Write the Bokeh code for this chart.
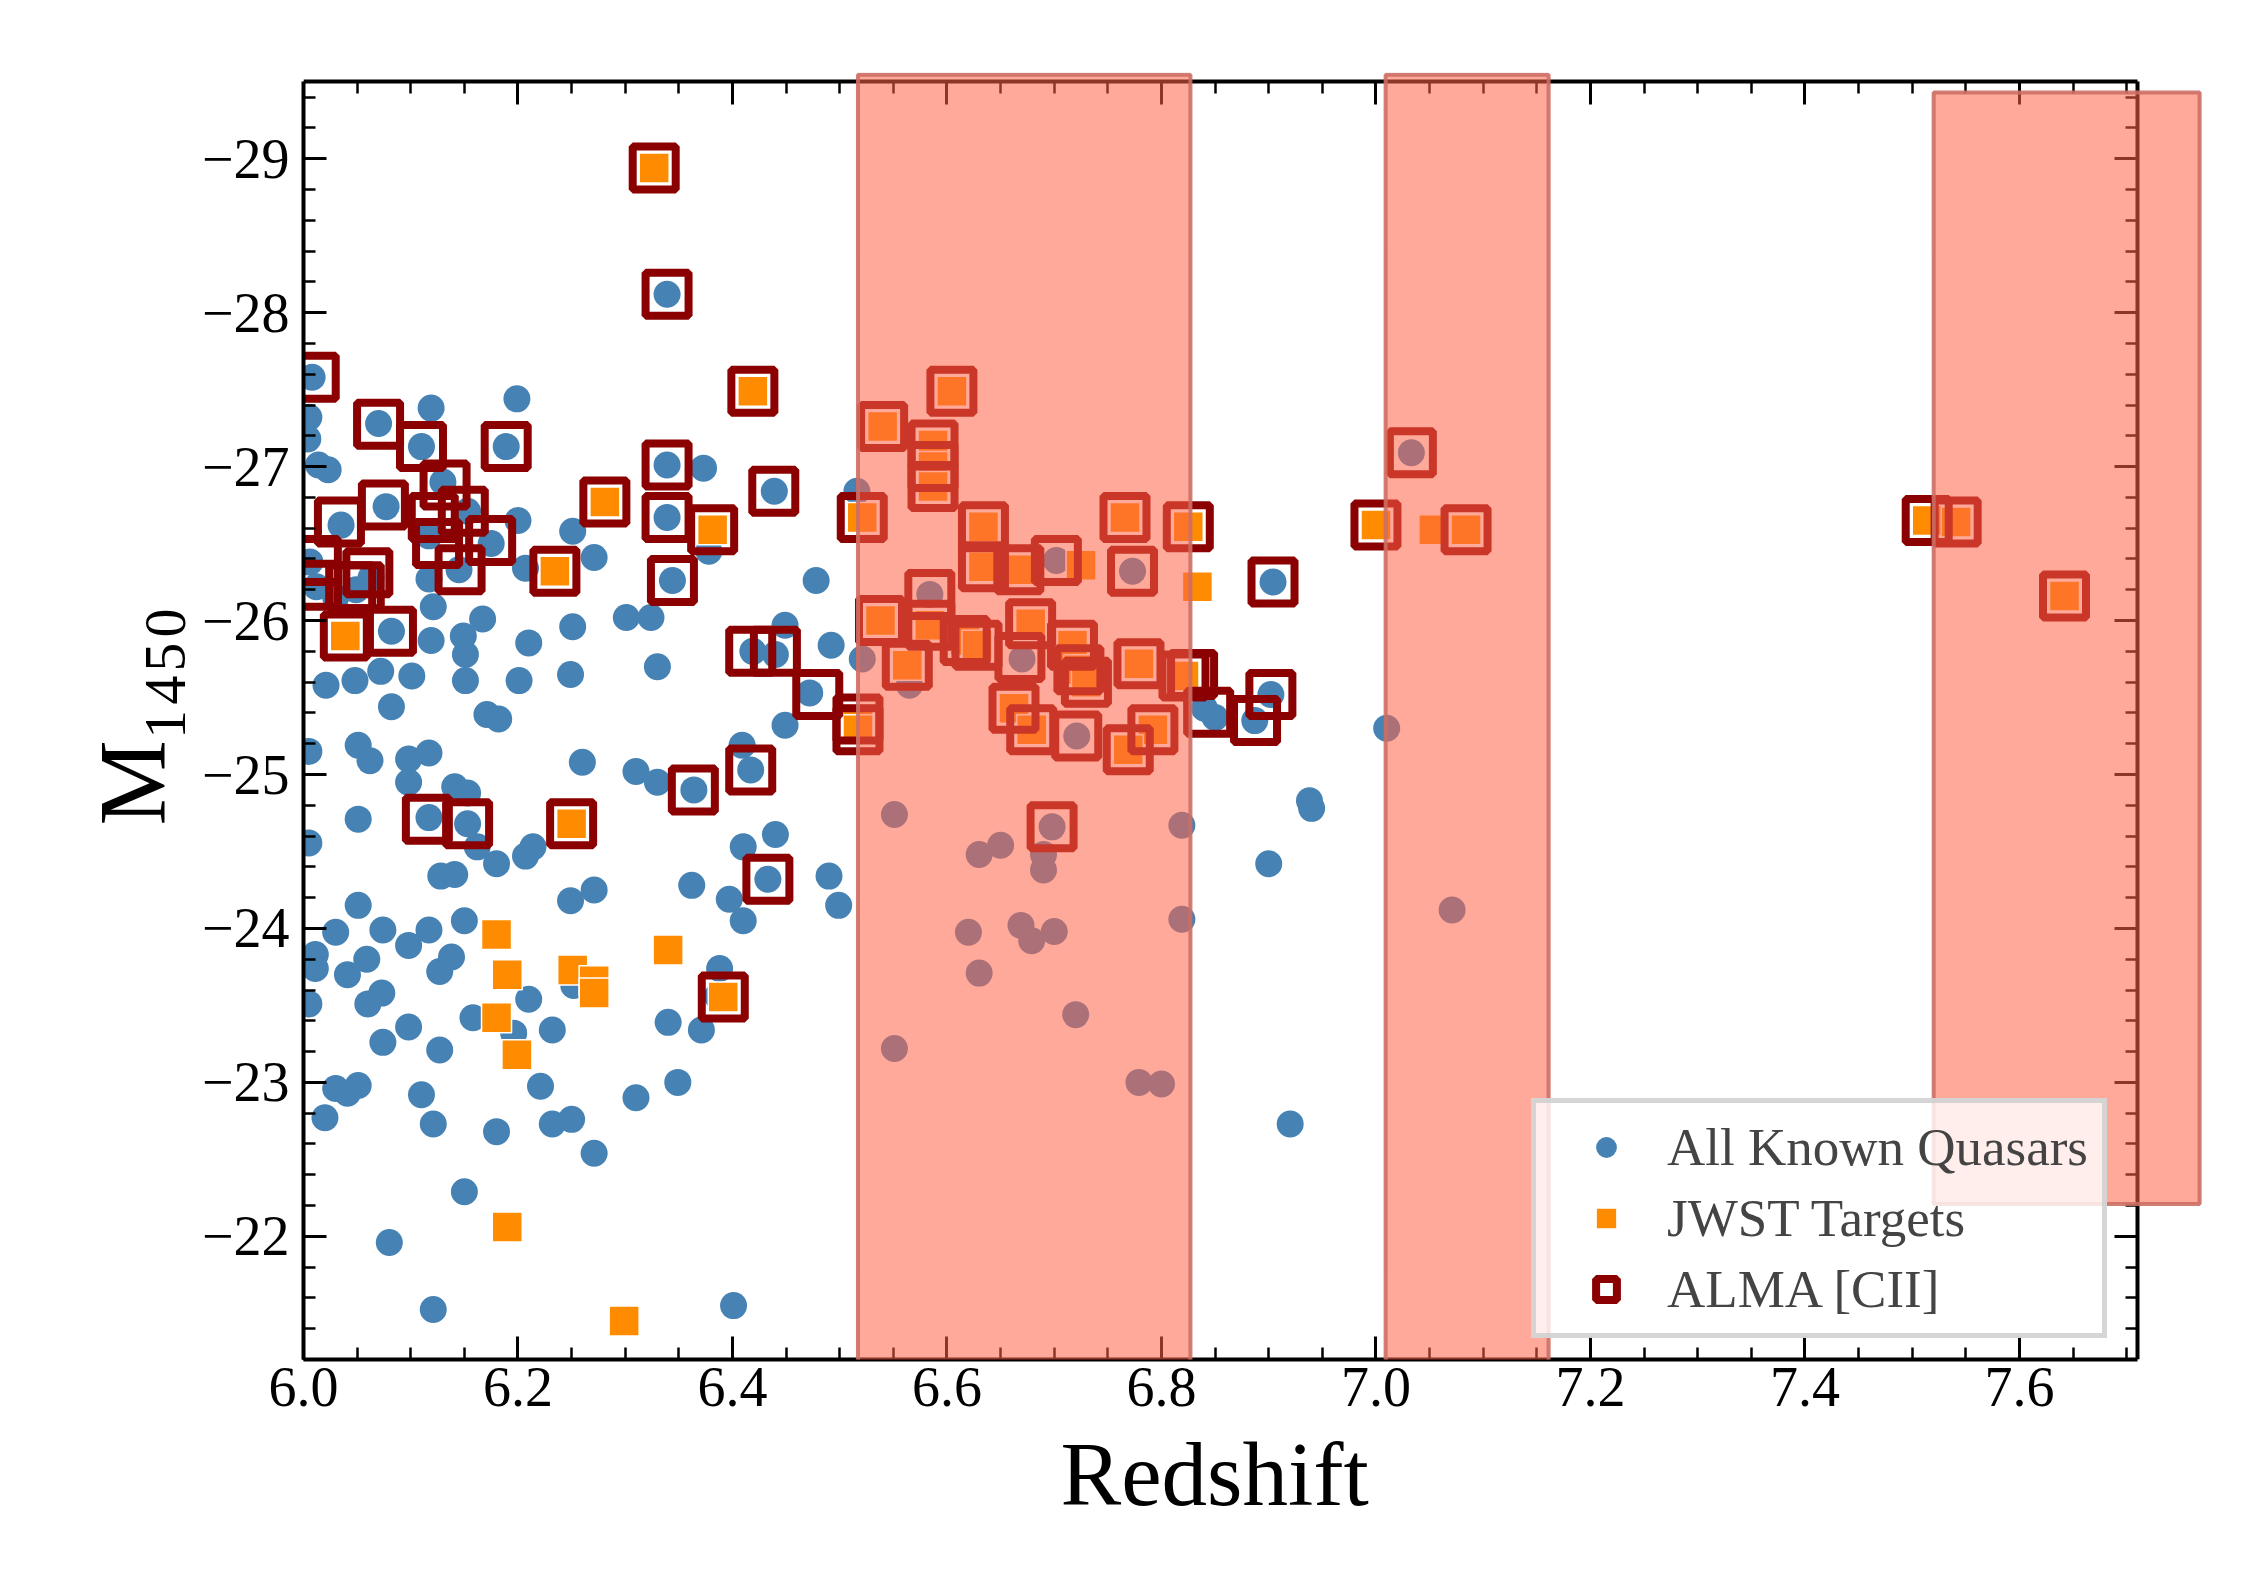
from bokeh.plotting import figure
from bokeh.models import (ColumnDataSource, Range1d, LinearAxis, SingleIntervalTicker,
                          CustomJSTickFormatter, Legend, LegendItem, BoxAnnotation, Title)
from bokeh.embed import file_html
from bokeh.resources import INLINE

# ---------------- data ----------------
quasar_z = [
    6.339, 6.008, 6.005, 6.004, 6.070, 6.119, 6.199, 6.110, 6.189, 6.014, 6.023, 6.339, 6.373,
    6.439, 6.130, 6.077, 6.035, 6.200, 6.339, 6.378, 6.251, 6.153, 6.117, 6.145, 6.175, 6.117,
    6.207, 6.271, 6.344, 6.478, 6.006, 6.012, 6.030, 6.063, 6.049, 6.082, 6.121, 6.167, 6.119,
    6.149, 6.151, 6.210, 6.251, 6.249, 6.301, 6.324, 6.330, 6.021, 6.048, 6.072, 6.101, 6.151,
    6.201, 6.082, 6.171, 6.182, 6.419, 6.449, 6.440, 6.492, 6.521, 6.516, 6.472, 6.449, 6.409,
    6.417, 6.005, 6.051, 6.062, 6.098, 6.117, 6.098, 6.141, 6.153, 6.260, 6.310, 6.330, 6.364,
    6.117, 6.051, 6.153, 6.005, 6.162, 6.180, 6.207, 6.214, 6.128, 6.141, 6.249, 6.271, 6.362,
    6.433, 6.410, 6.440, 6.397, 6.410, 6.490, 6.499, 6.051, 6.030, 6.074, 6.098, 6.117, 6.150,
    6.011, 6.011, 6.059, 6.041, 6.127, 6.138, 6.252, 6.388, 6.386, 6.005, 6.060, 6.073, 6.210,
    6.158, 6.196, 6.098, 6.074, 6.127, 6.232, 6.340, 6.371, 6.030, 6.051, 6.041, 6.020, 6.110,
    6.121, 6.180, 6.221, 6.232, 6.250, 6.310, 6.349, 6.271, 6.150, 6.080, 6.121, 6.401,
    6.584, 6.702, 6.773, 6.670, 6.565, 6.721, 6.551, 6.698, 6.819, 6.630, 6.650, 6.690, 6.690,
    6.620, 6.669, 6.679, 6.700, 6.819, 6.630, 6.720, 6.551, 6.779, 6.800,
    6.938, 6.940, 6.900, 6.920, 7.010, 7.071, 7.033, 6.840, 6.850, 6.887, 6.902, 6.904,
]
quasar_m = [
    -28.12, -27.58, -27.32, -27.18, -27.28, -27.38, -27.44, -27.13, -27.13, -27.01, -26.98, -27.01, -26.99,
    -26.84, -26.90, -26.74, -26.62, -26.65, -26.67, -26.45, -26.58, -26.71, -26.55, -26.33, -26.50, -26.27,
    -26.34, -26.41, -26.26, -26.26, -26.38, -26.22, -26.15, -26.28, -26.20, -25.93, -26.09, -26.01, -25.87,
    -25.90, -25.78, -25.855, -25.96, -25.65, -26.02, -26.02, -25.70, -25.58, -25.61, -25.67, -25.64, -25.61,
    -25.61, -25.44, -25.39, -25.36, -25.80, -25.97, -25.78, -25.84, -25.75, -26.84, -25.53, -25.32, -25.19,
    -25.03, -25.15, -25.19, -25.09, -25.10, -25.14, -24.95, -24.92, -24.88, -25.08, -25.02, -24.95, -24.90,
    -24.72, -24.71, -24.68, -24.555, -24.53, -24.42, -24.47, -24.53, -24.34, -24.35, -24.18, -24.25, -24.28,
    -24.32, -24.53, -24.61, -24.19, -24.05, -24.34, -24.15, -24.15, -23.975, -23.99, -23.89, -23.99, -24.05,
    -23.83, -23.74, -23.80, -23.70, -23.72, -23.815, -23.63, -23.74, -23.56, -23.51, -23.51, -23.58, -23.54,
    -23.42, -23.32, -23.36, -23.26, -23.21, -23.34, -23.39, -23.34, -22.96, -22.98, -22.93, -22.77, -22.92,
    -22.73, -22.68, -22.975, -22.73, -22.76, -22.90, -23.00, -22.54, -22.29, -21.96, -21.525, -21.55,
    -26.17, -26.39, -26.32, -25.75, -25.58, -25.25, -24.74, -24.66, -24.67, -24.48, -24.54, -24.38, -24.48,
    -23.975, -24.02, -23.92, -23.98, -24.06, -23.71, -23.44, -23.22, -23.00, -22.99,
    -24.83, -24.78, -24.42, -22.73, -25.30, -24.12, -27.09, -25.43, -25.37, -25.35, -25.52, -26.25,
]

jwst_z = [
    6.327, 6.419, 6.281, 6.3815, 6.2344, 6.039, 6.250, 6.3914, 6.180, 6.190, 6.251, 6.271, 6.271,
    6.340, 6.180, 6.199, 6.190, 6.299,
    6.540, 6.6046, 6.587, 6.587, 6.587, 6.521, 6.634, 6.766, 6.825, 6.634, 6.667, 6.725, 6.8335,
    6.538, 6.584, 6.563, 6.617, 6.628, 6.678, 6.717, 6.723, 6.730, 6.779, 6.821, 6.6625, 6.679,
    6.792, 6.769, 6.517, 6.517,
    7.000, 7.054, 7.084, 7.514, 7.541, 7.642,
]
jwst_m = [
    -28.94, -27.49, -26.77, -26.59, -26.32, -25.90, -24.68, -23.555, -23.96, -23.70, -23.73, -23.66, -23.58,
    -23.86, -23.42, -23.18, -22.06, -21.45,
    -27.26, -27.49, -27.14, -27.00, -26.87, -26.67, -26.61, -26.67, -26.61, -26.35, -26.33, -26.36, -26.22,
    -26.00, -25.97, -25.71, -25.87, -25.84, -25.98, -25.84, -25.68, -25.60, -25.72, -25.64, -25.43, -25.29,
    -25.29, -25.16, -25.36, -25.29,
    -26.62, -26.59, -26.59, -26.65, -26.64, -26.16,
]

alma_z = [
    6.327, 6.339, 6.010, 6.419, 6.070, 6.110, 6.189, 6.339, 6.4385, 6.132, 6.0745, 6.0335, 6.281,
    6.339, 6.3815, 6.149, 6.121, 6.1745, 6.125, 6.146, 6.2344, 6.344, 6.012, 6.012, 6.044, 6.052,
    6.060, 6.039, 6.082, 6.417, 6.440, 6.4795, 6.1155, 6.153, 6.250, 6.3635, 6.417, 6.433, 6.3914,
    6.540, 6.6046, 6.587, 6.587, 6.587, 6.521, 6.634, 6.766, 6.825, 6.634, 6.667, 6.538, 6.584,
    6.563, 6.617, 6.628, 6.678, 6.717, 6.723, 6.730, 6.779, 6.821, 6.6625, 6.679, 6.792, 6.769,
    6.517, 6.517, 6.584, 6.702, 6.773, 6.721, 6.698, 6.668,
    6.829, 6.844, 6.8877, 6.902, 6.904, 7.033, 7.000, 7.084, 7.514, 7.541, 7.642,
]
alma_m = [
    -28.94, -28.12, -27.58, -27.49, -27.275, -27.13, -27.13, -27.01, -26.84, -26.88, -26.75, -26.64, -26.77,
    -26.67, -26.59, -26.71, -26.67, -26.52, -26.50, -26.33, -26.32, -26.26, -26.39, -26.23, -26.22, -26.22,
    -26.31, -25.90, -25.93, -25.80, -25.80, -25.52, -24.71, -24.68, -24.68, -24.90, -25.03, -24.32, -23.555,
    -27.26, -27.49, -27.14, -27.00, -26.87, -26.67, -26.61, -26.67, -26.61, -26.35, -26.33, -26.00, -25.97,
    -25.71, -25.87, -25.84, -25.98, -25.84, -25.68, -25.60, -25.72, -25.64, -25.43, -25.29, -25.29, -25.16,
    -25.36, -25.29, -26.17, -26.39, -26.32, -25.25, -24.66, -25.76,
    -25.65, -25.405, -25.35, -25.52, -26.25, -27.09, -26.62, -26.59, -26.65, -26.64, -26.16,
]

# shaded redshift windows: (z_min, z_max, M_top, M_bottom)
window_zmin = [6.517, 7.009, 7.520]
window_zmax = [6.827, 7.161, 7.768]
window_mtop = [-29.545, -29.545, -29.43]
window_mbot = [-21.105, -21.105, -22.21]

# axes box limits
z_lim = (6.0, 7.71)
m_lim = (-29.5, -21.2)

x_ticks_label_fmt = "return tick.toFixed(1);"
y_ticks_label_fmt = "return (tick < 0 ? '\u2212' : '') + Math.abs(tick).toFixed(0);"

SERIF = "Liberation Serif"

# ---------------- figure ----------------
# the data frame reaches a bit beyond the drawn axes box (top and right) so the
# shaded windows can overflow it as in the original
p = figure(width=2239, height=1568, output_backend="svg", toolbar_location=None,
           x_range=Range1d(6.0, 7.78), y_range=Range1d(m_lim[1], -29.56),
           x_axis_location=None, y_axis_location=None,
           min_border_left=303, min_border_right=27, min_border_top=72, min_border_bottom=209)
p.grid.visible = False
p.outline_line_color = None
p.background_fill_color = "white"
p.border_fill_color = "white"

xt = SingleIntervalTicker(interval=0.2, num_minor_ticks=4)
yt = SingleIntervalTicker(interval=1.0, num_minor_ticks=5)
blank = "return '';"

bottom_ax = LinearAxis(ticker=xt, formatter=CustomJSTickFormatter(code=x_ticks_label_fmt),
                       bounds=z_lim)
left_ax = LinearAxis(ticker=yt, formatter=CustomJSTickFormatter(code=y_ticks_label_fmt),
                     bounds=m_lim, axis_label="M\u2081\u2084\u2085\u2080")
top_ax = LinearAxis(ticker=xt, formatter=CustomJSTickFormatter(code=blank),
                    bounds=z_lim, fixed_location=m_lim[0])
right_ax = LinearAxis(ticker=yt, formatter=CustomJSTickFormatter(code=blank),
                      bounds=m_lim, fixed_location=z_lim[1])
p.add_layout(bottom_ax, "below")
p.add_layout(left_ax, "left")
p.add_layout(top_ax, "above")
p.add_layout(right_ax, "right")

for ax in [bottom_ax, left_ax, top_ax, right_ax]:
    ax.axis_line_width = 4
    ax.axis_line_color = "black"
    ax.major_tick_in = 23
    ax.major_tick_out = 0
    ax.minor_tick_in = 12
    ax.minor_tick_out = 0
    ax.major_tick_line_width = 3
    ax.minor_tick_line_width = 2.5
    ax.major_tick_line_color = "black"
    ax.minor_tick_line_color = "black"
    ax.major_label_text_font = SERIF
    ax.major_label_text_font_size = "56px"
    ax.major_label_text_color = "black"
    ax.axis_label_text_font = SERIF
    ax.axis_label_text_font_style = "normal"
    ax.axis_label_text_color = "black"
top_ax.major_label_text_font_size = "1px"
right_ax.major_label_text_font_size = "1px"
bottom_ax.major_label_standoff = 8
left_ax.major_label_standoff = 14
left_ax.axis_label_text_font_size = "96px"
left_ax.axis_label_standoff = 13

# x-axis title, centred under the drawn axes box (not under the wider data frame)
p.add_layout(Title(text="Redshift", align="left", offset=757, standoff=30,
                   vertical_align="top", text_font=SERIF, text_font_size="91px",
                   text_font_style="normal", text_color="black"), "below")

src_q = ColumnDataSource(dict(z=quasar_z, m=quasar_m))
src_j = ColumnDataSource(dict(z=jwst_z, m=jwst_m))
src_a = ColumnDataSource(dict(z=alma_z, m=alma_m))

r_q = p.scatter("z", "m", source=src_q, marker="circle", size=27,
                fill_color="#4682B4", line_color=None)
r_j = p.scatter("z", "m", source=src_j, marker="square", size=30,
                fill_color="#FF8C00", line_color="white", line_width=1.5)
r_a = p.scatter("z", "m", source=src_a, marker="square", size=43,
                fill_color=None, line_color="#8B0000", line_width=8)

legend = Legend(items=[LegendItem(label="All Known Quasars", renderers=[r_q]),
                       LegendItem(label="JWST Targets", renderers=[r_j]),
                       LegendItem(label="ALMA [CII]", renderers=[r_a])],
                location=(1228, 21), padding=14, spacing=11,
                glyph_width=112, glyph_height=52, label_height=52, label_standoff=5,
                label_text_font=SERIF, label_text_font_size="53px",
                border_line_color="#cccccc", border_line_width=5, border_line_alpha=0.8,
                background_fill_color="white", background_fill_alpha=0.8)
p.add_layout(legend)

for z0, z1, mt, mb in zip(window_zmin, window_zmax, window_mtop, window_mbot):
    p.add_layout(BoxAnnotation(left=z0, right=z1, top=mt, bottom=mb,
                               fill_color="#FF6347", fill_alpha=0.55,
                               line_color="#cd6e64", line_alpha=0.9, line_width=4))

open("out.html", "w").write(file_html(p, INLINE))
